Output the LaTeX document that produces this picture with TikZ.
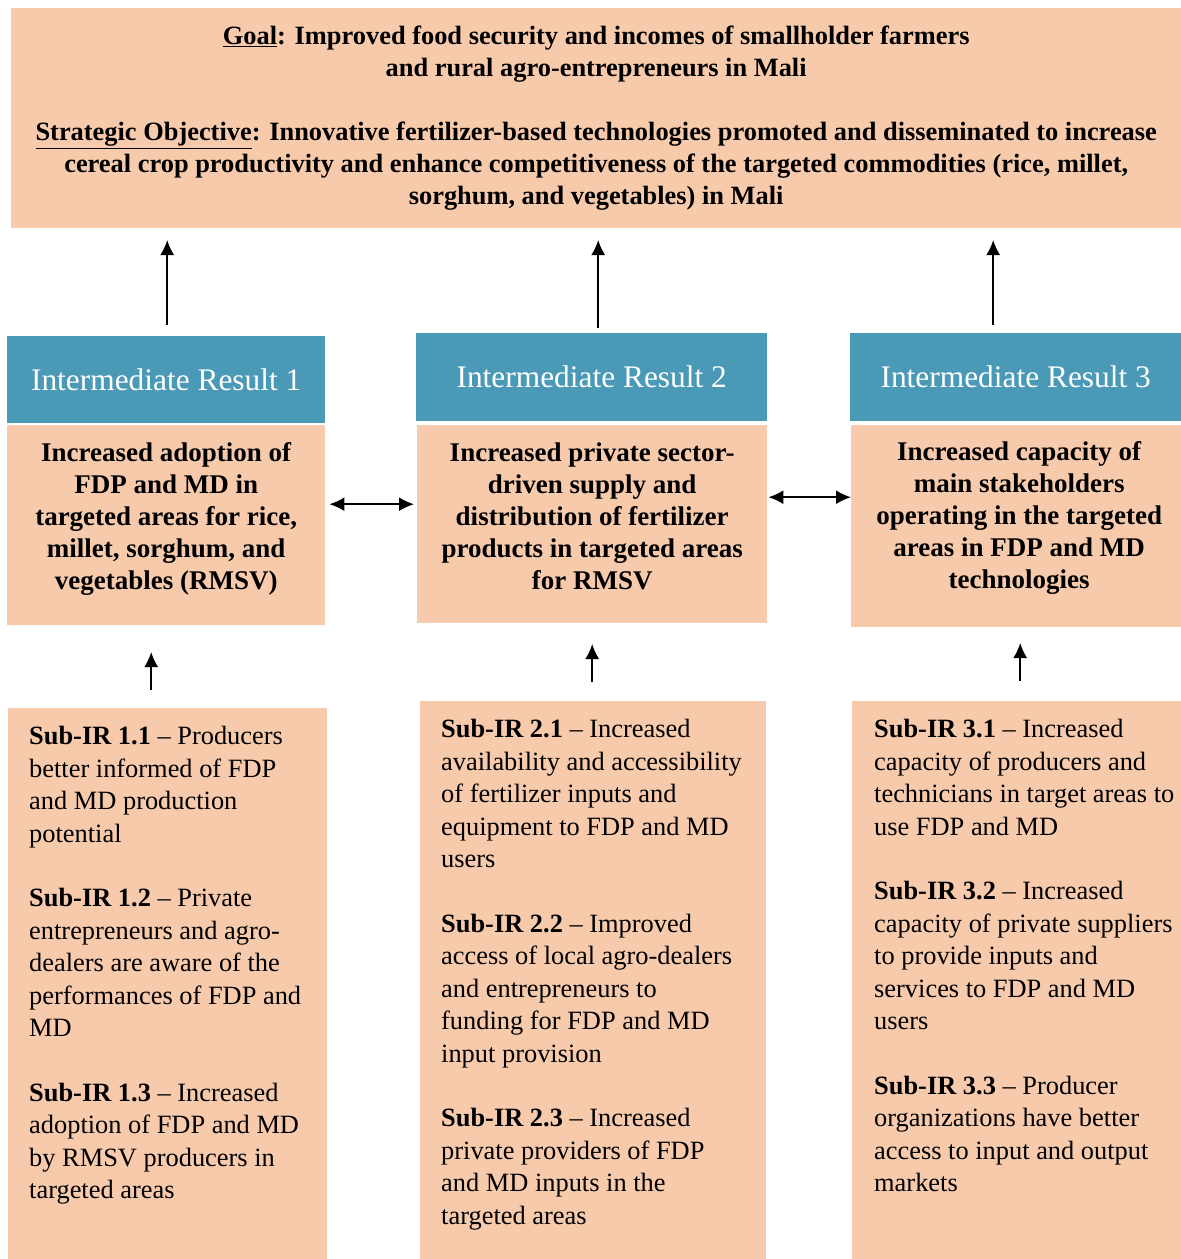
\documentclass[tikz,border=0pt]{standalone}
\usepackage{fontspec}
\setmainfont{Liberation Serif}
\usepackage{xcolor}
\usetikzlibrary{arrows.meta}
\definecolor{peach}{HTML}{F7CAAC}
\definecolor{irblue}{HTML}{4A99B7}

\begin{document}
\begin{tikzpicture}[x=1pt,y=-1pt,>={Latex[length=15pt,width=14pt]},
    every node/.style={inner sep=0pt},
    box/.style={fill=peach,anchor=north west},
    head/.style={fill=irblue,anchor=north west,text=white,font={\fontsize{31.4}{36}\selectfont}},
    bodytext/.style={align=center,font={\bfseries\fontsize{27}{32}\selectfont}},
    subtext/.style={align=left,anchor=north west,font={\fontsize{26.4}{32.5}\selectfont}},
    link/.style={line width=1.8pt}]
  \useasboundingbox (0,0) rectangle (1181,1259);

  % goal and strategic objective
  \node[box,minimum width=1170,minimum height=220,align=center,
    font={\bfseries\fontsize{26.4}{32}\selectfont}] (goal) at (11,8)
    {\underline{Goal}: Improved food security and incomes of smallholder farmers\\
     and rural agro-entrepreneurs in Mali\\[32pt]
     \underline{Strategic Objective}: Innovative fertilizer-based technologies promoted and disseminated to increase\\
     cereal crop productivity and enhance competitiveness of the targeted commodities (rice, millet,\\
     sorghum, and vegetables) in Mali};

  % intermediate results
  \node[head,minimum width=318,minimum height=87] (ir1) at (7,336) {Intermediate Result 1};
  \node[head,minimum width=351,minimum height=88] (ir2) at (416,333) {Intermediate Result 2};
  \node[head,minimum width=331,minimum height=88] (ir3) at (850,333) {Intermediate Result 3};

  \node[box,minimum width=318,minimum height=200] (res1) at (7,425) {};
  \node[box,minimum width=350,minimum height=198] (res2) at (417,425) {};
  \node[box,minimum width=330,minimum height=202] (res3) at (851,425) {};

  \node[bodytext] (res1t) at ([yshift=6pt]res1.center)
    {Increased adoption of\\ FDP and MD in\\ targeted areas for rice,\\ millet, sorghum, and\\ vegetables (RMSV)};
  \node[bodytext] (res2t) at ([yshift=8pt]res2.center)
    {Increased private sector-\\ driven supply and\\ distribution of fertilizer\\ products in targeted areas\\ for RMSV};
  \node[bodytext] (res3t) at ([xshift=3pt,yshift=8pt]res3.center)
    {Increased capacity of\\ main stakeholders\\ operating in the targeted\\ areas in FDP and MD\\ technologies};

  % sub-IRs
  \node[box,minimum width=319,minimum height=551] (sub1) at (8,708) {};
  \node[box,minimum width=346,minimum height=558] (sub2) at (420,701) {};
  \node[box,minimum width=329,minimum height=558] (sub3) at (852,701) {};

  \node[subtext] (sub1t) at ([shift={(21pt,-18pt)}]sub1.north west)
    {\textbf{Sub-IR 1.1} -- Producers\\ better informed of FDP\\ and MD production\\ potential\\[32pt]
     \textbf{Sub-IR 1.2} -- Private\\ entrepreneurs and agro-\\ dealers are aware of the\\ performances of FDP and\\ MD\\[32pt]
     \textbf{Sub-IR 1.3} -- Increased\\ adoption of FDP and MD\\ by RMSV producers in\\ targeted areas};
  \node[subtext] (sub2t) at ([shift={(21pt,-18pt)}]sub2.north west)
    {\textbf{Sub-IR 2.1} -- Increased\\ availability and accessibility\\ of fertilizer inputs and\\ equipment to FDP and MD\\ users\\[32pt]
     \textbf{Sub-IR 2.2} -- Improved\\ access of local agro-dealers\\ and entrepreneurs to\\ funding for FDP and MD\\ input provision\\[32pt]
     \textbf{Sub-IR 2.3} -- Increased\\ private providers of FDP\\ and MD inputs in the\\ targeted areas};
  \node[subtext] (sub3t) at ([shift={(22pt,-18pt)}]sub3.north west)
    {\textbf{Sub-IR 3.1} -- Increased\\ capacity of producers and\\ technicians in target areas to\\ use FDP and MD\\[32pt]
     \textbf{Sub-IR 3.2} -- Increased\\ capacity of private suppliers\\ to provide inputs and\\ services to FDP and MD\\ users\\[32pt]
     \textbf{Sub-IR 3.3} -- Producer\\ organizations have better\\ access to input and output\\ markets};

  % arrows up to the goal
  \draw[link,->] ([xshift=1pt,yshift=11pt]ir1.north) -- ++(0,-85);
  \draw[link,->] ([xshift=6.5pt,yshift=5pt]ir2.north) -- ++(0,-88);
  \draw[link,->] ([xshift=-22.5pt,yshift=8pt]ir3.north) -- ++(0,-85);

  % links between results
  \draw[link,<->] ([xshift=4pt,yshift=21pt]res1.east) -- ([xshift=-3pt,yshift=20pt]res2.west);
  \draw[link,<->] ([xshift=1pt,yshift=27pt]res2.east) -- ([xshift=0pt,yshift=29pt]res3.west);

  % arrows up from the sub-IRs
  \draw[link,->] ([xshift=-16.5pt,yshift=18pt]sub1.north) -- ++(0,-38);
  \draw[link,->] ([xshift=-1pt,yshift=19pt]sub2.north) -- ++(0,-38);
  \draw[link,->] ([xshift=3.5pt,yshift=20pt]sub3.north) -- ++(0,-38);
\end{tikzpicture}
\end{document}
